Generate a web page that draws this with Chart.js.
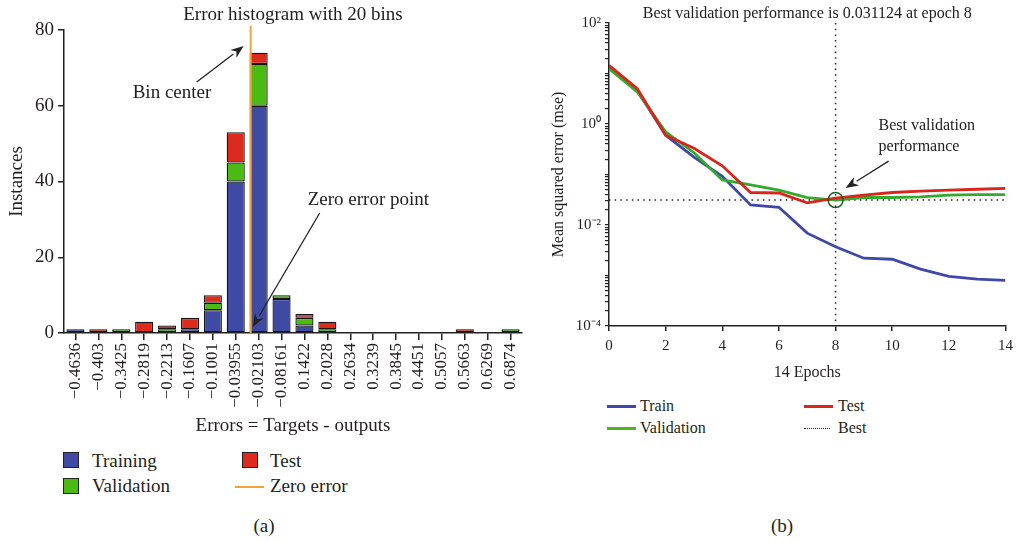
<!DOCTYPE html>
<html>
<head>
<meta charset="utf-8">
<script src="https://cdn.jsdelivr.net/npm/chart.js@4.4.1/dist/chart.umd.min.js"></script>
<style>
  body { margin: 0; width: 1019px; height: 542px; position: relative; overflow: hidden; background: #fff;
         font-family: "Liberation Serif", "Times New Roman", serif; color: #231f20; }
  .box { position: absolute; }
  .txt { position: absolute; line-height: 1; white-space: nowrap; }
  .sw { position: absolute; box-sizing: border-box; border: 1.5px solid #222; width: 16px; height: 16px; }
  .ln { position: absolute; height: 3px; width: 29px; }
</style>
</head>
<body>
<div class="box" style="left:0;top:0;width:540px;height:440px"><canvas id="hist"></canvas></div>
<div class="box" style="left:540px;top:0;width:479px;height:390px"><canvas id="perf"></canvas></div>

<!-- histogram legend -->
<div class="sw" style="left:63px;top:452px;background:#3f4ba3"></div>
<div class="txt" style="left:92px;top:451px;font-size:19px">Training</div>
<div class="sw" style="left:242px;top:452px;background:#dc2a1f"></div>
<div class="txt" style="left:270px;top:451px;font-size:19px">Test</div>
<div class="sw" style="left:63px;top:478px;background:#4bbb13"></div>
<div class="txt" style="left:92px;top:476px;font-size:19px">Validation</div>
<div class="ln" style="left:235px;top:486px;height:2px;background:#f2a43a"></div>
<div class="txt" style="left:270px;top:476px;font-size:19px">Zero error</div>

<!-- performance legend -->
<div class="ln" style="left:607px;top:405px;background:#3f48a8"></div>
<div class="txt" style="left:640px;top:398px;font-size:16px">Train</div>
<div class="ln" style="left:804px;top:405px;background:#d9261c"></div>
<div class="txt" style="left:838px;top:398px;font-size:16px">Test</div>
<div class="ln" style="left:607px;top:427px;background:#4cb51e"></div>
<div class="txt" style="left:640px;top:420px;font-size:16px">Validation</div>
<div class="ln" style="left:804px;top:428px;height:0;width:26px;border-top:1.5px dotted #222"></div>
<div class="txt" style="left:838px;top:420px;font-size:16px">Best</div>

<div class="txt" style="left:214px;top:516px;width:100px;text-align:center;font-size:19px">(a)</div>
<div class="txt" style="left:732px;top:516px;width:100px;text-align:center;font-size:19px">(b)</div>

<script>
Chart.defaults.font.family = '"Liberation Serif", "Times New Roman", serif';
Chart.defaults.color = '#231f20';

// error histogram, 20 bins
const binLabels = ['−0.4636', '−0.403', '−0.3425', '−0.2819', '−0.2213', '−0.1607', '−0.1001', '−0.03955',
  '−0.02103', '−0.08161', '0.1422', '0.2028', '0.2634', '0.3239', '0.3845', '0.4451', '0.5057', '0.5663',
  '0.6269', '0.6874'];
const trainingCounts   = [1, 0, 0, 0, 0, 1, 6, 40, 60, 9, 2, 0, 0, 0, 0, 0, 0, 0, 0, 0];
const validationCounts = [0, 0, 1, 0, 1, 0, 2, 5, 11, 1, 2, 1, 0, 0, 0, 0, 0, 0, 0, 1];
const testCounts       = [0, 1, 0, 3, 1, 3, 2, 8, 3, 0, 1, 2, 0, 0, 0, 0, 0, 1, 0, 0];
const firstBinCenter = -0.4636;
const binWidth = 0.06058;

// training performance
const epochs         = [0, 1, 2, 3, 4, 5, 6, 7, 8, 9, 10, 11, 12, 13, 14];
const trainPerf      = [13.5, 4.6, 0.60, 0.22, 0.092, 0.025, 0.0224, 0.0069, 0.0037, 0.0022, 0.0021, 0.00134, 0.00096, 0.00085, 0.0008];
const validationPerf = [12.5, 4.3, 0.70, 0.27, 0.078, 0.062, 0.049, 0.035, 0.031124, 0.035, 0.035, 0.036, 0.039, 0.040, 0.040];
const testPerf       = [14.5, 5.0, 0.60, 0.33, 0.149, 0.044, 0.043, 0.0275, 0.034, 0.039, 0.044, 0.047, 0.049, 0.051, 0.053];
const bestEpoch = 8;
const bestPerf = 0.031124;
const perfTickValues = [1e-4, 1e-2, 1, 100];
const perfTickLabels = ['10⁻⁴', '10⁻²', '10⁰', '10²'];

const INK = '#222';

function arrow(ctx, x1, y1, x2, y2) {
  const a = Math.atan2(y2 - y1, x2 - x1), len = 13, w = 5;
  const bx = x2 - len * Math.cos(a), by = y2 - len * Math.sin(a);
  ctx.beginPath();
  ctx.moveTo(x1, y1);
  ctx.lineTo(bx, by);
  ctx.stroke();
  ctx.beginPath();
  ctx.moveTo(x2, y2);
  ctx.lineTo(bx + w * Math.sin(a), by - w * Math.cos(a));
  ctx.lineTo(x2 - 0.7 * len * Math.cos(a), y2 - 0.7 * len * Math.sin(a));
  ctx.lineTo(bx - w * Math.sin(a), by + w * Math.cos(a));
  ctx.closePath();
  ctx.fill();
}

const histDecor = {
  id: 'histDecor',
  afterDatasetsDraw(chart) {
    const {ctx, chartArea: ca, scales: {x}} = chart;
    const zeroIdx = (0 - firstBinCenter) / binWidth;
    const zx = x.getPixelForValue(zeroIdx);
    ctx.save();
    ctx.strokeStyle = '#f2a43a';
    ctx.lineWidth = 2;
    ctx.beginPath();
    ctx.moveTo(zx, ca.top - 4);
    ctx.lineTo(zx, ca.bottom);
    ctx.stroke();

    ctx.fillStyle = INK;
    ctx.strokeStyle = INK;
    ctx.lineWidth = 1.3;
    arrow(ctx, zx - 54, ca.top + 52, zx - 7, ca.top + 16);
    arrow(ctx, zx + 69, ca.bottom - 120, zx + 2, ca.bottom - 6);

    ctx.font = '19px "Liberation Serif", serif';
    ctx.textBaseline = 'alphabetic';
    ctx.textAlign = 'left';
    ctx.fillText('Bin center', zx - 118, ca.top + 68);
    ctx.fillText('Zero error point', zx + 57, ca.bottom - 128);

    ctx.textAlign = 'center';
    ctx.fillText('Error histogram with 20 bins', (ca.left + ca.right) / 2, 20);
    ctx.restore();
  }
};

const bar = (label, values, color) => ({
  label,
  data: values.map(v => v || null),
  backgroundColor: color,
  borderColor: '#151515',
  borderWidth: 1.3,
  borderSkipped: false,
  barPercentage: 0.79,
  categoryPercentage: 1
});

new Chart(document.getElementById('hist'), {
  type: 'bar',
  data: {
    labels: binLabels,
    datasets: [
      bar('Training', trainingCounts, '#3f4ba3'),
      bar('Validation', validationCounts, '#4bbb13'),
      bar('Test', testCounts, '#dc2a1f')
    ]
  },
  options: {
    responsive: true,
    maintainAspectRatio: false,
    animation: false,
    layout: { padding: { top: 30, right: 18, left: 0, bottom: 0 } },
    plugins: { legend: { display: false }, tooltip: { enabled: false } },
    scales: {
      x: {
        stacked: true,
        offset: true,
        grid: { drawOnChartArea: false, offset: false, tickLength: 7, color: INK, lineWidth: 1.5 },
        border: { color: INK, width: 1.5 },
        ticks: { minRotation: 90, maxRotation: 90, autoSkip: false, padding: 3, font: { size: 17 } },
        title: { display: true, text: 'Errors = Targets - outputs', font: { size: 19 }, padding: { top: 0, bottom: 3 } },
        afterFit: s => { s.height = 107; }
      },
      y: {
        stacked: true,
        min: 0,
        max: 80,
        ticks: { stepSize: 20, padding: 4, font: { size: 19 } },
        grid: { drawOnChartArea: false, tickLength: 6, color: INK, lineWidth: 1.5 },
        border: { color: INK, width: 1.5 },
        title: { display: true, text: 'Instances', font: { size: 19 }, padding: { top: 6, bottom: 0 } },
        afterFit: s => { s.width = 64; }
      }
    }
  },
  plugins: [histDecor]
});

const perfDecor = {
  id: 'perfDecor',
  beforeDatasetsDraw(chart) {
    const {ctx, chartArea: ca, scales: {x, y}} = chart;
    const bx = x.getPixelForValue(bestEpoch), by = y.getPixelForValue(bestPerf);
    ctx.save();
    ctx.strokeStyle = INK;
    ctx.lineWidth = 1.5;
    ctx.setLineDash([1.5, 4.2]);
    ctx.beginPath();
    ctx.moveTo(bx, ca.top);
    ctx.lineTo(bx, ca.bottom);
    ctx.moveTo(ca.left, by);
    ctx.lineTo(ca.right, by);
    ctx.stroke();
    ctx.restore();
  },
  afterDatasetsDraw(chart) {
    const {ctx, chartArea: ca, scales: {x, y}} = chart;
    const bx = x.getPixelForValue(bestEpoch), by = y.getPixelForValue(bestPerf);
    ctx.save();
    ctx.strokeStyle = '#1d5e22';
    ctx.lineWidth = 1.5;
    ctx.beginPath();
    ctx.arc(bx, by, 7.5, 0, Math.PI * 2);
    ctx.stroke();

    ctx.fillStyle = INK;
    ctx.strokeStyle = INK;
    ctx.lineWidth = 1.3;
    arrow(ctx, bx + 53, by - 39, bx + 10, by - 12);

    ctx.font = '16px "Liberation Serif", serif';
    ctx.textAlign = 'left';
    ctx.textBaseline = 'alphabetic';
    ctx.fillText('Best validation', bx + 43, by - 70);
    ctx.fillText('performance', bx + 43, by - 49);

    ctx.textAlign = 'center';
    ctx.fillText('Best validation performance is ' + bestPerf + ' at epoch ' + bestEpoch, (ca.left + ca.right) / 2, 18);
    ctx.restore();
  }
};

const perfLine = (label, values, color) => ({
  label,
  data: epochs.map((e, i) => ({ x: e, y: values[i] })),
  borderColor: color,
  borderWidth: 2.8,
  pointRadius: 0,
  tension: 0,
  fill: false
});

// log axis ticks: every 1..9 × 10^k, labels only on the even decades
const logTicks = [];
for (let k = -4; k <= 2; k++) {
  for (let m = 1; m <= 9; m++) {
    const v = m * Math.pow(10, k);
    if (v <= 100 * 1.0001) logTicks.push(v);
  }
}

new Chart(document.getElementById('perf'), {
  type: 'line',
  data: {
    datasets: [
      perfLine('Test', testPerf, '#d9261c'),
      perfLine('Validation', validationPerf, '#34aa2c'),
      perfLine('Train', trainPerf, '#3f48a8')
    ]
  },
  options: {
    responsive: true,
    maintainAspectRatio: false,
    animation: false,
    layout: { padding: { top: 23, right: 10, left: 0, bottom: 0 } },
    plugins: { legend: { display: false }, tooltip: { enabled: false } },
    scales: {
      x: {
        type: 'linear',
        min: 0,
        max: 14,
        ticks: { stepSize: 2, padding: 6, font: { size: 15 } },
        grid: { drawOnChartArea: false, tickLength: 5, color: INK, lineWidth: 1.5 },
        border: { color: INK, width: 1.5 },
        title: { display: true, text: epochs.length - 1 + ' Epochs', font: { size: 16 }, padding: { top: 0, bottom: 8 } },
        afterFit: s => { s.height = 64; }
      },
      y: {
        type: 'logarithmic',
        min: 1e-4,
        max: 100,
        afterBuildTicks: s => { s.ticks = logTicks.map(v => ({ value: v })); },
        ticks: {
          autoSkip: false,
          padding: 4,
          font: { size: 15 },
          callback: v => {
            const i = perfTickValues.findIndex(t => Math.abs(v - t) / t < 1e-6);
            return i < 0 ? '' : perfTickLabels[i];
          }
        },
        grid: { drawOnChartArea: false, tickLength: 4, color: INK, lineWidth: 1.2 },
        border: { color: INK, width: 1.5 },
        title: { display: true, text: 'Mean squared error (mse)', font: { size: 16 }, padding: { top: 9, bottom: 0 } },
        afterFit: s => { s.width = 69; }
      }
    }
  },
  plugins: [perfDecor]
});
</script>
</body>
</html>
